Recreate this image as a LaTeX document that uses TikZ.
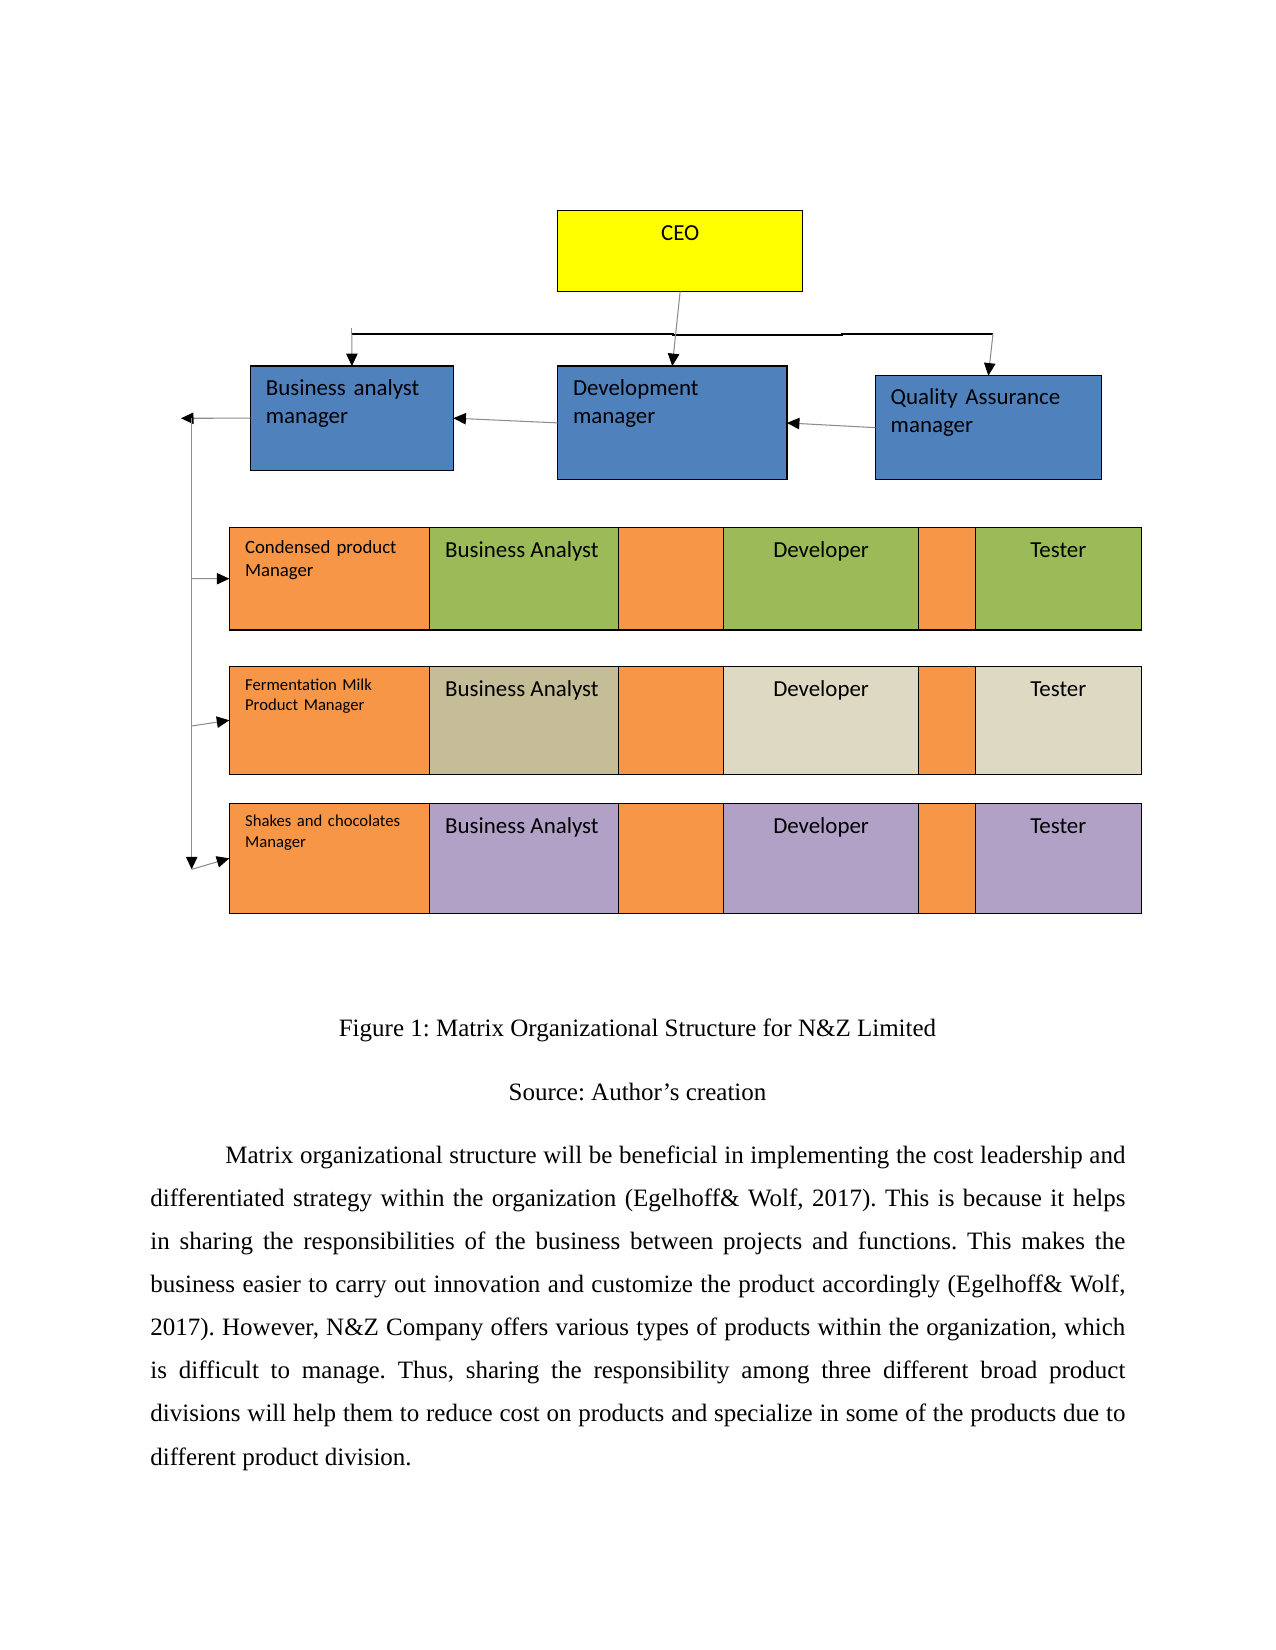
\documentclass[tikz,border=0pt]{standalone}
\usepackage{fontspec}
\setmainfont{Liberation Serif}
\newfontfamily\carl{Carlito}
\usetikzlibrary{arrows.meta,calc,fit}
\definecolor{ceoyel}{HTML}{FFFF00}
\definecolor{mblue}{HTML}{4F81BD}
\definecolor{corange}{HTML}{F79646}
\definecolor{cgreen}{HTML}{9BBB59}
\definecolor{ctan}{HTML}{C4BD97}
\definecolor{clighttan}{HTML}{DDD9C3}
\definecolor{cpurple}{HTML}{B2A1C7}
\newcommand\cellbox[6]{\node[box, fill=#6, fit={(#2,#3) (#4,#5)}] (#1) {};}
\begin{document}
\frenchspacing
\begin{tikzpicture}[x=0.48pt,y=-0.48pt,
  box/.style={draw=black, line width=0.6pt, inner sep=0pt, outer sep=0pt},
  conn/.style={draw=black!45, line width=0.5pt, -{Triangle[length=6pt,width=5.5pt,color=black]}},
  plain/.style={draw=black!45, line width=0.5pt},
  bus/.style={draw=black, line width=0.8pt},
  lbl/.style={font={\carl\fontsize{11pt}{13.6pt}\selectfont}, inner sep=0pt, text width=190pt, align=left, anchor=base west},
  lblc/.style={font={\carl\fontsize{11pt}{13.6pt}\selectfont}, inner sep=0pt, anchor=base},
  mlbl/.style={inner sep=0pt, text width=170pt, align=left, anchor=base west}]
\fill[white] (0,0) rectangle (1275,1650);
\useasboundingbox (0,0) rectangle (1275,1650);

% top boxes
\cellbox{ceo}{557.6}{210.4}{802.7}{291.4}{ceoyel}
\cellbox{ba}{250.4}{366.1}{453.4}{470.2}{mblue}
\cellbox{dev}{557.6}{366.1}{786.9}{479.7}{mblue}
\cellbox{qa}{875.3}{375.6}{1101.4}{479.7}{mblue}
\node[lblc] (tceo) at ($(ceo.north)+(0,30)$) {CEO};
\node[lbl] (tba) at ($(ba.north west)+(15,29)$) {Business analyst\\manager};
\node[lbl] (tdev) at ($(dev.north west)+(15,29)$) {Development\\manager};
\node[lbl] (tqa) at ($(qa.north west)+(15,29)$) {Quality Assurance\\manager};

% bus
\coordinate (busl) at (351.9,333.8);
\coordinate (busr) at (993,333.8);
\draw[bus] (busl) -- (673,333.8) -- (673,335.2) -- (842,335.2) -- (842,333.8) -- (busr);
\draw[plain] (busl) ++(0,-6) -- (busl);
\draw[conn] (busl) -- (ba.north);
\draw[conn] (ceo.south) -- (dev.north);
\draw[conn] (busr) -- (qa.north);

% horizontal arrows
\draw[conn] (dev.west) -- (ba.east);
\draw[conn] (qa.west) -- (dev.east);
\coordinate (ltip) at (181,418.3);
\draw[conn] (ba.west) -- (ltip);

% rows
\cellbox{m1}{229.3}{527.3}{429.2}{630.1}{corange}
\cellbox{ba1}{429.2}{527.3}{618.6}{630.1}{cgreen}
\cellbox{oa1}{618.6}{527.3}{723.8}{630.1}{corange}
\cellbox{dv1}{723.8}{527.3}{918.4}{630.1}{cgreen}
\cellbox{ob1}{918.4}{527.3}{975.2}{630.1}{corange}
\cellbox{ts1}{975.2}{527.3}{1141.4}{630.1}{cgreen}

\cellbox{m2}{229.3}{666.2}{429.2}{774.3}{corange}
\cellbox{ba2}{429.2}{666.2}{618.6}{774.3}{ctan}
\cellbox{oa2}{618.6}{666.2}{723.8}{774.3}{corange}
\cellbox{dv2}{723.8}{666.2}{918.4}{774.3}{clighttan}
\cellbox{ob2}{918.4}{666.2}{975.2}{774.3}{corange}
\cellbox{ts2}{975.2}{666.2}{1141.4}{774.3}{clighttan}

\cellbox{m3}{229.3}{803.3}{429.2}{913.3}{corange}
\cellbox{ba3}{429.2}{803.3}{618.6}{913.3}{cpurple}
\cellbox{oa3}{618.6}{803.3}{723.8}{913.3}{corange}
\cellbox{dv3}{723.8}{803.3}{918.4}{913.3}{cpurple}
\cellbox{ob3}{918.4}{803.3}{975.2}{913.3}{corange}
\cellbox{ts3}{975.2}{803.3}{1141.4}{913.3}{cpurple}

\node[mlbl, font={\carl\fontsize{9pt}{11.2pt}\selectfont}] (tm1) at ($(m1.north west)+(15.4,26)$) {Condensed product\\Manager};
\node[mlbl, font={\carl\fontsize{8pt}{9.5pt}\selectfont}] (tm2) at ($(m2.north west)+(15.4,24.3)$) {Fermentation Milk\\Product Manager};
\node[mlbl, font={\carl\fontsize{8pt}{9.9pt}\selectfont}] (tm3) at ($(m3.north west)+(15.4,23.4)$) {Shakes and chocolates\\Manager};

\foreach \r in {1,2,3}{
  \node[lblc] (tba\r) at ($(ba\r.north)+(-2,30.5)$) {Business Analyst};
  \node[lblc] (tdv\r) at ($(dv\r.north)+(0,30.5)$) {Developer};
  \node[lblc] (tts\r) at ($(ts\r.north)+(0,30.5)$) {Tester};
}

% left vertical connector
\coordinate (vtop) at (191.7,418.3);
\coordinate (vbot) at (191.7,869.3);
\coordinate (v1) at (191.7,578.7);
\coordinate (v2) at (191.7,726);
\draw[conn] (vtop) -- (vbot);
\draw[conn] (v1) -- (m1.west);
\draw[conn] (v2) -- (m2.west);
\draw[conn] (vbot) -- (m3.west);

% caption and text
\node[font={\fontsize{12pt}{14pt}\selectfont}, anchor=base, inner sep=0pt] (cap) at (637.5,1036) {Figure 1: Matrix Organizational Structure for N\&Z Limited};
\node[font={\fontsize{12pt}{14pt}\selectfont}, anchor=base, inner sep=0pt] (src) at (637.5,1100) {Source: Author’s creation};
\node[anchor=base west, inner sep=0pt, text width=468pt, align=justify,
      font={\fontsize{12pt}{20.69pt}\selectfont}] (para) at (150,1163.3)
 {\tolerance=9999\hspace*{36pt}Matrix organizational structure will be beneficial in implementing the cost leadership and\linebreak
 differentiated strategy within the organization (Egelhoff\& Wolf, 2017). This is because it helps\linebreak
 in sharing the responsibilities of the business between projects and functions. This makes the\linebreak
 business easier to carry out innovation and customize the product accordingly (Egelhoff\& Wolf,\linebreak
 2017). However, N\&Z Company offers various types of products within the organization, which\linebreak
 is difficult to manage. Thus, sharing the responsibility among three different broad product\linebreak
 divisions will help them to reduce cost on products and specialize in some of the products due to\linebreak
 different product division.};
\end{tikzpicture}
\end{document}
